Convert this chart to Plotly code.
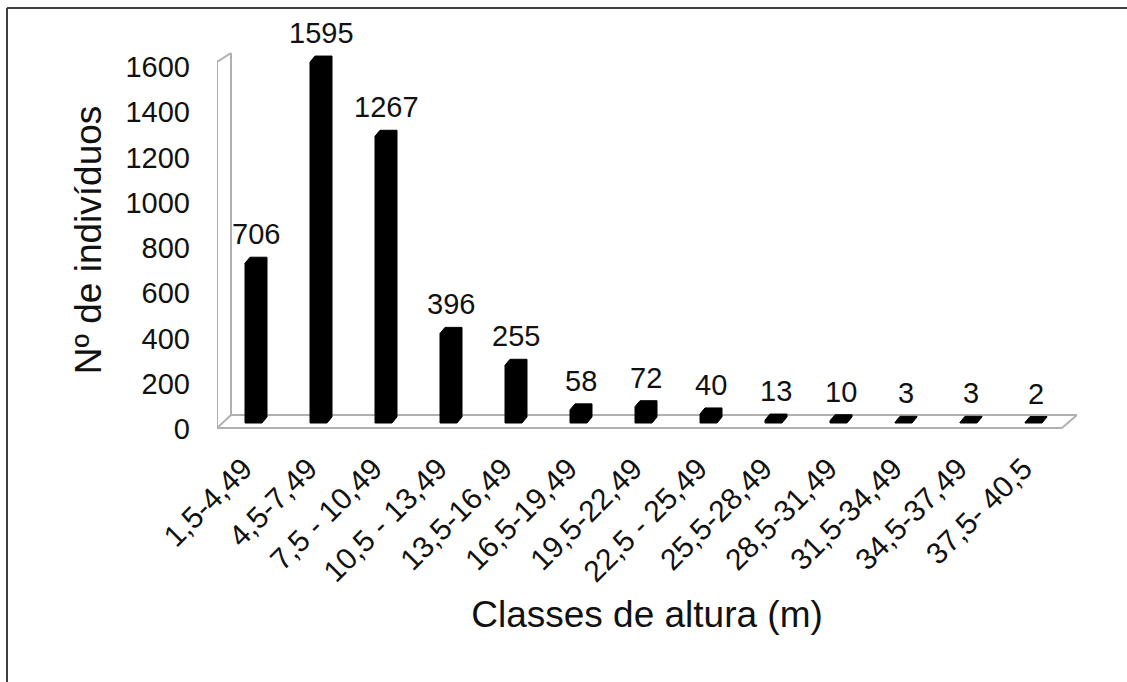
import plotly.graph_objects as go

# Height classes and tree counts
classes = ["1,5-4,49", "4,5-7,49", "7,5 - 10,49", "10,5 - 13,49", "13,5-16,49",
           "16,5-19,49", "19,5-22,49", "22,5 - 25,49", "25,5-28,49", "28,5-31,49",
           "31,5-34,49", "34,5-37,49", "37,5- 40,5"]
counts = [706, 1595, 1267, 396, 255, 58, 72, 40, 13, 10, 3, 3, 2]
y_ticks = [0, 200, 400, 600, 800, 1000, 1200, 1400, 1600]

W, H = 1127, 682
# plot area in pixels
L, R, T, B = 217, 1077, 40, 440
PX_X = 65.0          # pixels per category
X0_PX = 253.5        # pixel of the first category (columns)
XLAB0_PX = 243.5     # pixel of the first category label anchor
PX_Y = 0.2263        # pixels per unit of count
BAR0_PX = 423        # pixel of zero for the column fronts
TICK0_PX = 429       # pixel of zero for the value labels

x_range = [(L - X0_PX) / PX_X, (R - X0_PX) / PX_X]
x2_range = [(L - XLAB0_PX) / PX_X, (R - XLAB0_PX) / PX_X]
y_range = [(BAR0_PX - B) / PX_Y, (BAR0_PX - T) / PX_Y]
y2_range = [(TICK0_PX - B) / PX_Y, (TICK0_PX - T) / PX_Y]

def px_x(px):
    return (px - X0_PX) / PX_X

def px_y(py):
    return (BAR0_PX - py) / PX_Y

# column geometry (front width and 3D depth offset)
w = 17 / PX_X
dx = 5 / PX_X
dy = 6 / PX_Y

fig = go.Figure()

for i, v in enumerate(counts):
    xl, xr = i - w / 2, i + w / 2
    xs = [xl, xl, xl + dx, xr + dx, xr + dx, xr, xl]
    ys = [0, v, v + dy, v + dy, dy, 0, 0]
    fig.add_trace(go.Scatter(x=xs, y=ys, mode="lines", fill="toself",
                             fillcolor="black", line=dict(color="black", width=1),
                             showlegend=False, hoverinfo="skip"))
    fig.add_annotation(x=i + dx / 2, y=v + dy, xref="x", yref="y", text=str(v),
                       showarrow=False, yanchor="bottom", yshift=5,
                       font=dict(size=29, color="#111111", family="Liberation Sans"))

# invisible trace carrying the axis labels
fig.add_trace(go.Scatter(x=[0], y=[0], mode="markers", marker=dict(opacity=0),
                         showlegend=False, hoverinfo="skip", xaxis="x2", yaxis="y2"))

# 3D frame: side wall and floor
frame = "#b0b0b0"
fl, bl = px_x(217), px_x(231)
fr, br = px_x(1062), px_x(1077)
yf, yb = px_y(428), px_y(415)
wf, wb = px_y(62), px_y(53)
segments = [
    (fl, yf, fl, wf), (bl, yb, bl, wb), (fl, wf, bl, wb),
    (fl, yf, fr, yf), (bl, yb, br, yb), (fr, yf, br, yb), (fl, yf, bl, yb),
]
for x0, y0, x1, y1 in segments:
    fig.add_shape(type="line", x0=x0, y0=y0, x1=x1, y1=y1, xref="x", yref="y",
                  line=dict(color=frame, width=2), layer="below")

# outer border (top and left edges)
def paper_x(px):
    return (px - L) / (R - L)

def paper_y(py):
    return (B - py) / (B - T)

fig.add_shape(type="line", xref="paper", yref="paper",
              x0=paper_x(7), y0=paper_y(8), x1=paper_x(W + 5), y1=paper_y(8),
              line=dict(color="#404040", width=2))
fig.add_shape(type="line", xref="paper", yref="paper",
              x0=paper_x(7), y0=paper_y(8), x1=paper_x(7), y1=paper_y(H + 5),
              line=dict(color="#404040", width=2))

font = "Liberation Sans"
fig.update_layout(
    width=W, height=H,
    margin=dict(l=L, r=W - R, t=T, b=H - B),
    paper_bgcolor="white", plot_bgcolor="white",
    showlegend=False,
    xaxis=dict(range=x_range, showticklabels=False, showgrid=False, zeroline=False,
               showline=False, ticks=""),
    yaxis=dict(range=y_range, showticklabels=False, showgrid=False, zeroline=False,
               showline=False, ticks=""),
    xaxis2=dict(range=x2_range, overlaying="x", side="bottom", anchor="y2",
                tickmode="array",
                tickvals=list(range(len(classes))), ticktext=classes, tickangle=-45,
                showgrid=False, zeroline=False, showline=False, ticks="",
                ticklabelstandoff=4,
                tickfont=dict(size=30, color="#111111", family=font),
                title=dict(text="Classes de altura (m)", standoff=14,
                           font=dict(size=37, color="#111111", family=font))),
    yaxis2=dict(range=y2_range, overlaying="y", side="left", anchor="x2",
                tickmode="array", tickvals=y_ticks,
                showgrid=False, zeroline=False, showline=False, ticks="",
                ticklabelstandoff=26,
                tickfont=dict(size=29, color="#111111", family=font),
                title=dict(text="Nº de indivíduos", standoff=12,
                           font=dict(size=37, color="#111111", family=font))),
)

fig.write_html("out.html")
